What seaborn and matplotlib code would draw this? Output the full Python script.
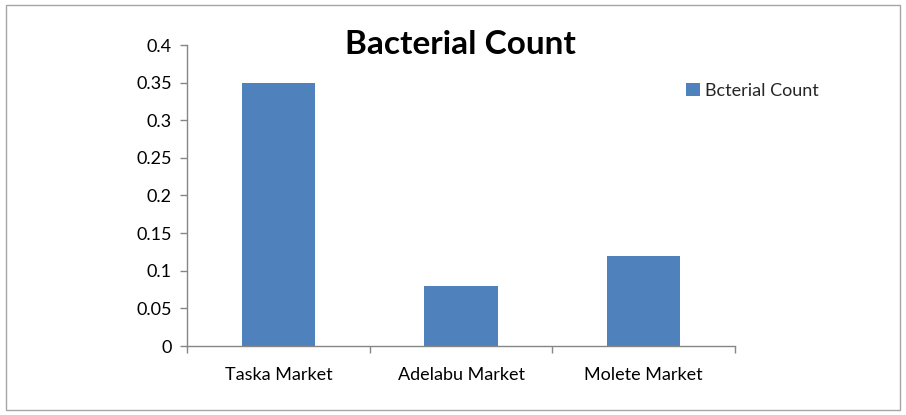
import matplotlib
matplotlib.use("Agg")
import matplotlib.pyplot as plt
from matplotlib.patches import Rectangle
import seaborn as sns
import pandas as pd

markets = ["Taska Market", "Adelabu Market", "Molete Market"]
counts = [0.35, 0.08, 0.12]
series_name = "Bcterial Count"
title = "Bacterial Count"
y_ticks = [0, 0.05, 0.1, 0.15, 0.2, 0.25, 0.3, 0.35, 0.4]
y_tick_labels = ["0", "0.05", "0.1", "0.15", "0.2", "0.25", "0.3", "0.35", "0.4"]

BAR = "#4F81BD"
AXIS = "#868686"
FS = 13

sns.set_theme(style="white")
plt.rcParams["font.family"] = ["Lato", "DejaVu Sans"]

df = pd.DataFrame({"market": markets, "count": counts})

fig = plt.figure(figsize=(9.06, 4.15), dpi=100)
ax = fig.add_axes([187 / 906, 1 - 346 / 415, (735 - 187) / 906, (346 - 45) / 415])

sns.barplot(data=df, x="market", y="count", color=BAR, width=0.4,
            saturation=1, linewidth=0, label=series_name, ax=ax)

ax.set_xlim(-0.5, 2.5)
ax.set_ylim(0, 0.4)
ax.set_xlabel("")
ax.set_ylabel("")

# y axis
ax.set_yticks(y_ticks)
ax.set_yticklabels(y_tick_labels, fontsize=FS, color="#000000")
# x axis: tick marks at category boundaries, labels centred under bars
ax.set_xticks([-0.5, 0.5, 1.5, 2.5])
ax.set_xticklabels([])
ax.set_xticks([0, 1, 2], minor=True)
ax.set_xticklabels(markets, minor=True, fontsize=FS, color="#000000")
ax.tick_params(axis="x", which="major", direction="out", length=5, width=1,
               color=AXIS, bottom=True)
ax.tick_params(axis="x", which="minor", length=0, pad=15, bottom=True)
ax.tick_params(axis="y", direction="out", length=5, width=1, color=AXIS,
               left=True, pad=6)

for side in ["top", "right"]:
    ax.spines[side].set_visible(False)
for side in ["left", "bottom"]:
    ax.spines[side].set_color(AXIS)
    ax.spines[side].set_linewidth(1)

ax.legend(loc="upper left", bbox_to_anchor=(686 / 906, 1 - 83 / 415),
          bbox_transform=fig.transFigure, frameon=False, fontsize=FS,
          handlelength=0.75, handleheight=0.75, handletextpad=0.3,
          borderaxespad=0, borderpad=0)

fig.text(460 / 906, 1 - 45 / 415, title, ha="center", va="center",
         fontsize=24, fontweight="bold", color="#000000")

# chart area frame
fig.patches.append(Rectangle((6 / 906, 1 - 410 / 415), (900 - 6) / 906, (410 - 5) / 415,
                             transform=fig.transFigure, fill=False,
                             edgecolor="#A6A6A6", linewidth=1))

fig.savefig("out.png", dpi=100)
